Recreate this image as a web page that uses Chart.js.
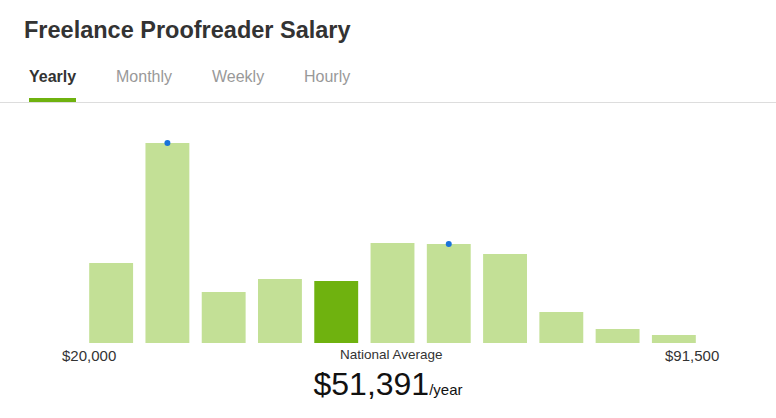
<!DOCTYPE html>
<html>
<head>
<meta charset="utf-8">
<script src="https://cdn.jsdelivr.net/npm/chart.js@4"></script>
<style>
  body { margin: 0; width: 776px; height: 418px; background: #fff; font-family: Arial, "Liberation Sans", sans-serif; position: relative; overflow: hidden; }
  .abs { position: absolute; }
  #title { left: 24px; top: 17px; font-size: 23.5px; font-weight: bold; color: #333; }
  .tab { top: 68px; font-size: 16px; color: #999; }
  #yearly { left: 29px; color: #333; font-weight: bold; }
  #underline { left: 29px; top: 98px; width: 47px; height: 4px; background: #6fb20f; }
  #rule { left: 0; top: 102px; width: 776px; height: 1px; background: #ddd; }
  #chartBox { left: 79px; top: 133px; width: 627px; height: 214px; }
  .lbl { top: 347px; font-size: 15px; color: #333; }
  #avg { left: 0; width: 776px; text-align: center; top: 366px; font-size: 32px; color: #111; }
  #avg span { font-size: 15px; }
</style>
</head>
<body>
<div class="abs" id="title">Freelance Proofreader Salary</div>
<div class="abs tab" id="yearly">Yearly</div>
<div class="abs tab" style="left:116px">Monthly</div>
<div class="abs tab" style="left:212px">Weekly</div>
<div class="abs tab" style="left:304px">Hourly</div>
<div class="abs" id="underline"></div>
<div class="abs" id="rule"></div>
<div class="abs" id="chartBox"><canvas id="myChart"></canvas></div>
<div class="abs lbl" style="left:62px">$20,000</div>
<div class="abs lbl" style="left:340px;font-size:13.5px">National Average</div>
<div class="abs lbl" style="left:665px">$91,500</div>
<div class="abs" id="avg">$51,391<span>/year</span></div>
<script>
const categories = ['1', '2', '3', '4', '5', '6', '7', '8', '9', '10', '11'];
const barValues = [80, 200, 51, 64, 62, 100, 99, 89, 31, 14, 8];
const markerValues = [null, 200, null, null, null, null, 99, null, null, null, null];
const highlightIndex = 4;

const barColors = barValues.map((v, i) => i === highlightIndex ? '#6fb20f' : '#c3e096');

new Chart(document.getElementById('myChart'), {
    type: 'bar',
    data: {
        labels: categories,
        datasets: [{
            type: 'line',
            data: markerValues,
            showLine: false,
            pointRadius: 3,
            pointBackgroundColor: '#1a73d9',
            pointBorderWidth: 0,
            clip: false
        }, {
            data: barValues,
            backgroundColor: barColors,
            categoryPercentage: 1,
            barPercentage: 0.78
        }]
    },
    options: {
        responsive: true,
        maintainAspectRatio: false,
        animation: false,
        plugins: { legend: { display: false }, tooltip: { enabled: false } },
        scales: {
            x: { display: false },
            y: { display: false, min: 0, max: 206 }
        }
    }
});
</script>
</body>
</html>
